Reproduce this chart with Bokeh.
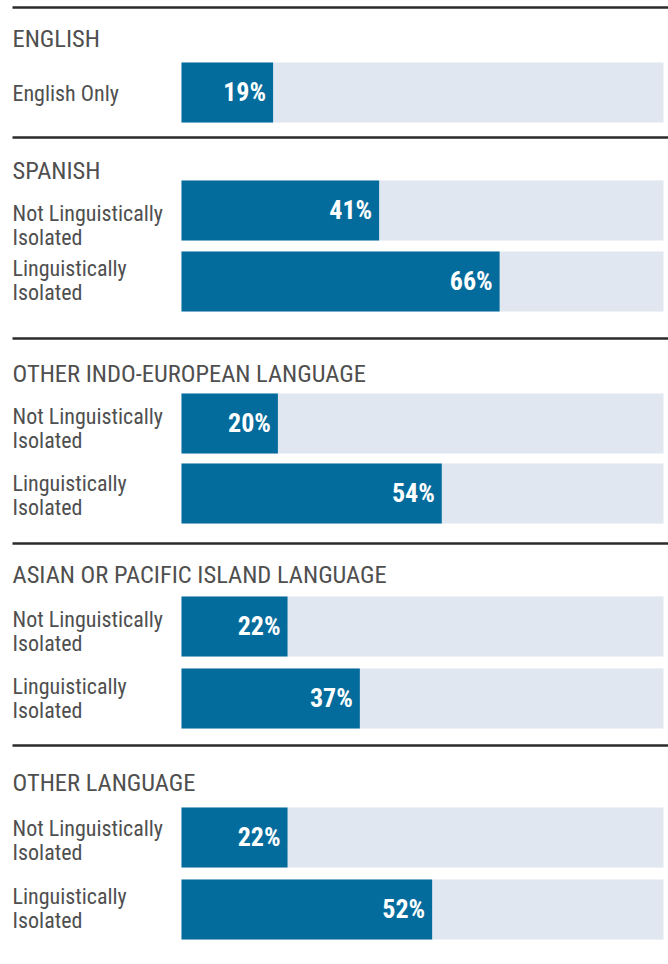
from bokeh.plotting import figure
from bokeh.models import Range1d, ColumnDataSource
from bokeh.core.properties import value
from bokeh.embed import file_html
from bokeh.resources import INLINE

# ---- data ----
groups = ["ENGLISH", "SPANISH", "OTHER INDO-EUROPEAN LANGUAGE",
          "ASIAN OR PACIFIC ISLAND LANGUAGE", "OTHER LANGUAGE"]
row_labels = [
    ["English Only"],
    ["Not Linguistically\nIsolated", "Linguistically\nIsolated"],
    ["Not Linguistically\nIsolated", "Linguistically\nIsolated"],
    ["Not Linguistically\nIsolated", "Linguistically\nIsolated"],
    ["Not Linguistically\nIsolated", "Linguistically\nIsolated"],
]
values = [
    [19],
    [41, 66],
    [20, 54],
    [22, 37],
    [22, 52],
]

# ---- layout (screen pixels) ----
W, H = 668, 964
rule_y = [7, 137, 338, 543, 745]
header_y = [38, 170, 373, 574, 782]
bar_top = [[62], [180, 251], [393, 463], [596, 668], [807, 879]]
label_y = [[93], [213, 268], [416, 483], [619, 686], [828, 896]]  # first-line centres
LINE_GAP = 24
BAR_H = 60
PX0, PX100 = 181, 663
k = 100.0 / (PX100 - PX0)
x_start = (0 - PX0) * k
x_end = (W - PX0) * k

FONT = "Liberation Sans Narrow, Roboto Condensed, DejaVu Sans Condensed, Roboto"
DARK = "#046c9c"
LIGHT = "#e0e7f1"
GRAY = "#4f4f4f"

p = figure(width=W, height=H, output_backend="svg", toolbar_location=None,
           x_range=Range1d(x_start, x_end), y_range=Range1d(H, 0),
           min_border=0, outline_line_color=None)
p.axis.visible = False
p.grid.visible = False

ys, vals, labs, lys = [], [], [], []
for g in range(len(groups)):
    for r, v in enumerate(values[g]):
        ys.append(bar_top[g][r] + BAR_H / 2)
        vals.append(v)
        lab = row_labels[g][r]
        labs.append(lab)
        nl = lab.count("\n")
        lys.append(label_y[g][r] + nl * LINE_GAP / 2)

src = ColumnDataSource(dict(y=ys, v=vals, full=[100] * len(vals),
                            zero=[0] * len(vals), lab=labs, ly=lys,
                            vtxt=[f"{v}%" for v in vals]))

p.hbar(y="y", left="zero", right="full", height=BAR_H, source=src,
       fill_color=LIGHT, line_color=None)
p.hbar(y="y", left="zero", right="v", height=BAR_H, source=src,
       fill_color=DARK, line_color=None)
p.text(x="v", y="y", text="vtxt", source=src, x_offset=-7, y_offset=-1,
       text_align="right", text_baseline="middle", text_color="white",
       text_font=value(FONT), text_font_style="bold", text_font_size="26px")
p.text(x=x_start, y="ly", text="lab", source=src, x_offset=12,
       text_align="left", text_baseline="middle", text_color=GRAY,
       text_font=value(FONT), text_font_size="22px", text_line_height=0.93)

hsrc = ColumnDataSource(dict(y=header_y, t=groups, ry=rule_y))
p.text(x=x_start, y="y", text="t", source=hsrc, x_offset=12,
       text_align="left", text_baseline="middle", text_color=GRAY,
       text_font=value(FONT), text_font_size="24.5px")
p.segment(x0=x_start + 12 * k, x1=x_end + 5, y0="ry", y1="ry", source=hsrc,
          line_color="#2b2b2b", line_width=2.5)

open("out.html", "w").write(file_html(p, INLINE))
